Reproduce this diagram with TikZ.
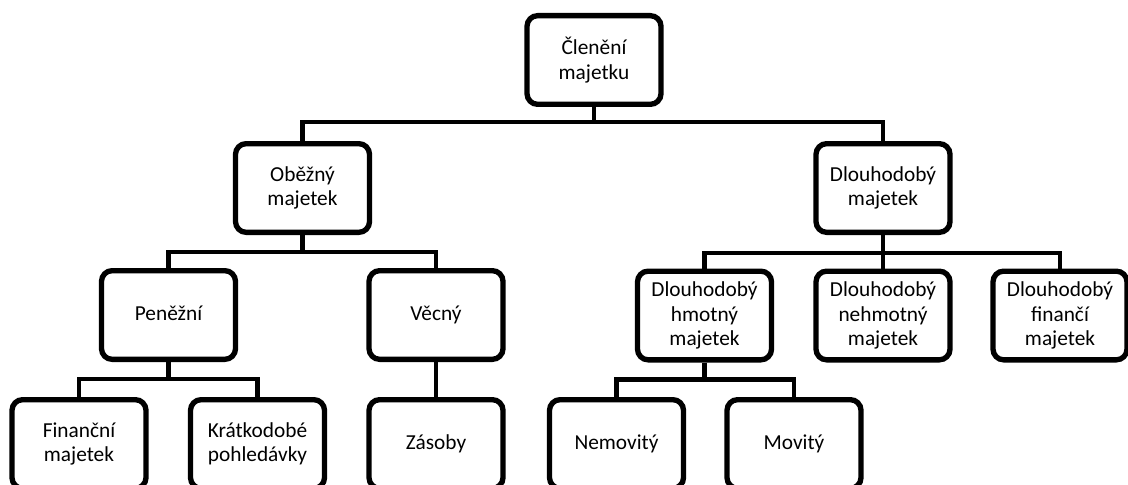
\documentclass[tikz,border=0pt]{standalone}
\usepackage{fontspec}
\setmainfont{Carlito}

\tikzset{
  majbox/.style={draw, line width=4pt, rounded corners=8pt,
    minimum width=100.5pt, minimum height=66.5pt, inner sep=2pt,
    align=center, font=\fontsize{16}{18.2}\selectfont},
  jednoradek/.style={text height=11.5pt, text depth=3.8pt},
  spoj/.style={line width=3.4pt},
}

\begin{document}
\begin{tikzpicture}[x=0.75pt,y=-0.75pt]
                \clip (0,0) rectangle (1128,485);

                \node[majbox] (clen) at (594,60) {Členění\\majetku};
                \node[majbox] (obez) at (302.5,188) {Oběžný\\majetek};
                \node[majbox] (dlouh) at (883,188) {Dlouhodobý\\majetek};
                \node[majbox, jednoradek] (pen) at (168.5,315) {Peněžní};
                \node[majbox, jednoradek] (vec) at (436,315) {Věcný};
                \node[majbox] (hmot) at (704.5,315.5) {Dlouhodobý\\hmotný\\majetek};
                \node[majbox] (nehm) at (883,315.5) {Dlouhodobý\\nehmotný\\majetek};
                \node[majbox] (fin) at (1060,315.5) {Dlouhodobý\\finančí\\majetek};
                \node[majbox] (finm) at (79,444) {Finanční\\majetek};
                \node[majbox] (krat) at (257.5,444) {Krátkodobé\\pohledávky};
                \node[majbox, jednoradek] (zas) at (436,444) {Zásoby};
                \node[majbox, jednoradek] (nemo) at (616.5,444) {Nemovitý};
                \node[majbox, jednoradek] (mov) at (794,444) {Movitý};

                \draw[spoj] (clen.south) -- ++(0,15) -| (obez.north);
                \draw[spoj] (clen.south) -- ++(0,15) -| (dlouh.north);
                \draw[spoj] (obez.south) -- ++(0,17) -| (pen.north);
                \draw[spoj] (obez.south) -- ++(0,17) -| (vec.north);
                \draw[spoj] (dlouh.south) -- ++(0,18) -| (hmot.north);
                \draw[spoj] (dlouh.south) -- ++(0,18) -| (nehm.north);
                \draw[spoj] (dlouh.south) -- ++(0,18) -| (fin.north);
                \draw[spoj] (pen.south) -- ++(0,17) -| (finm.north);
                \draw[spoj] (pen.south) -- ++(0,17) -| (krat.north);
                \draw[spoj] (vec.south) -- (zas.north);
                \draw[spoj] (hmot.south) -- ++(0,17) -| (nemo.north);
                \draw[spoj] (hmot.south) -- ++(0,17) -| (mov.north);
            \end{tikzpicture}
\end{document}
